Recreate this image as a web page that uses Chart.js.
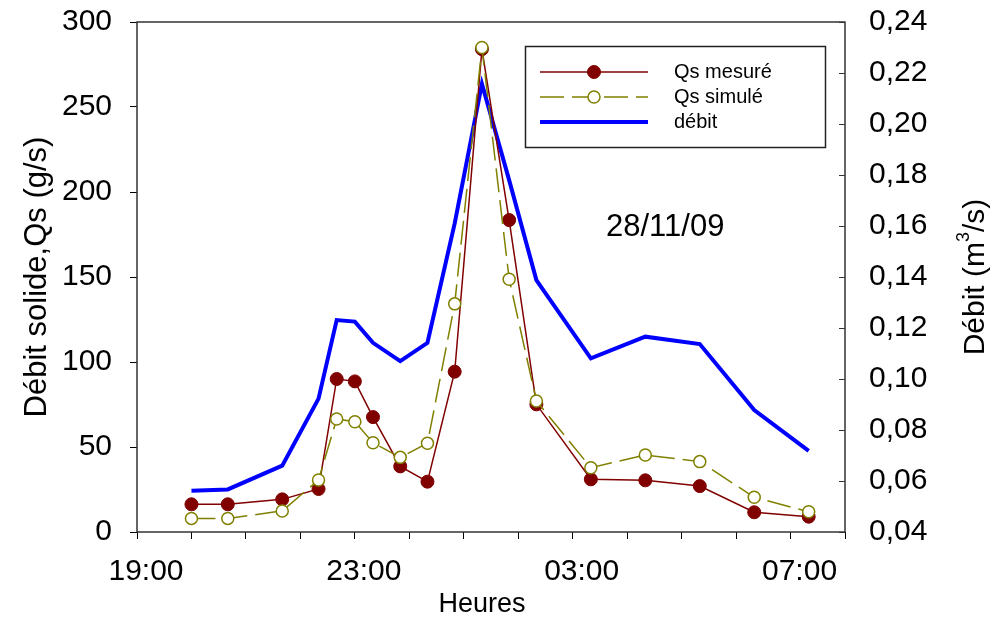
<!DOCTYPE html>
<html>
<head>
<meta charset="utf-8">
<script src="https://cdn.jsdelivr.net/npm/chart.js@4/dist/chart.umd.min.js"></script>
<style>
  html, body { margin: 0; padding: 0; background: #fff; }
  #wrap { width: 991px; height: 624px; }
</style>
</head>
<body>
<div id="wrap"><canvas id="chart"></canvas></div>
<script>
// Data (28/11/09 event)
const heures = ["20:00", "20:40", "21:40", "22:20", "22:40", "23:00", "23:20", "23:50", "00:20",
  "00:50", "01:20", "01:50", "02:20", "03:20", "04:20", "05:20", "06:20", "07:20"];
const qsMesure = [16.3, 16.3, 19.2, 25.3, 90, 88.6, 67.6, 38.6, 29.6, 94.3, 284, 183.5, 75.1, 31, 30.4, 27, 11.6, 9.0];
const qsSimule = [8.0, 8.0, 12.4, 30.6, 66.5, 64.9, 52.5, 43.9, 52.2, 134.2, 285, 148.7, 77.1, 37.8, 45.3, 41.4, 20.4, 11.9];
const debit = [0.0562, 0.0567, 0.066, 0.0923, 0.1231, 0.1225, 0.1142, 0.107, 0.1142, 0.161, 0.2157, 0.178,
  0.1388, 0.1081, 0.1166, 0.1137, 0.0878, 0.0718];
const xTickLabels = ["19:00", "23:00", "03:00", "07:00"];

const FONT = "'Liberation Sans', Arial, sans-serif";

// hours elapsed since 19:00 (night wraps past midnight)
function toHours(t) {
  const [h, m] = t.split(":").map(Number);
  return (h < 19 ? h + 24 : h) + m / 60 - 19;
}

function points(values) {
  return heures.map((t, i) => ({ x: toHours(t), y: values[i] }));
}

// fixed axis sizes, no extra label padding pushing the plot area
function fixVertical(width) {
  return (s) => {
    s.width = width;
    s.paddingTop = 0;
    s.paddingBottom = 0;
  };
}

const extras = {
  id: "extras",
  beforeDatasetsDraw(chart) {
    const { ctx, chartArea: a } = chart;
    ctx.save();
    ctx.strokeStyle = "#333";
    ctx.lineWidth = 1.5;
    ctx.strokeRect(a.left, a.top, a.right - a.left, a.bottom - a.top);
    // inward ticks on the right axis
    const y1 = chart.scales.y1;
    ctx.lineWidth = 1;
    y1.ticks.forEach((t) => {
      const py = Math.round(y1.getPixelForValue(t.value)) + 0.5;
      ctx.beginPath();
      ctx.moveTo(a.right - 6, py);
      ctx.lineTo(a.right, py);
      ctx.stroke();
    });
    ctx.restore();
  },
  afterDraw(chart) {
    const { ctx, chartArea: a } = chart;
    const ds = chart.data.datasets;
    const midY = (a.top + a.bottom) / 2;
    ctx.save();
    ctx.fillStyle = "#000";

    // axis titles
    ctx.font = "31px " + FONT;
    ctx.textAlign = "center";
    ctx.textBaseline = "middle";
    ctx.save();
    ctx.translate(37, midY);
    ctx.rotate(-Math.PI / 2);
    ctx.fillText("Débit solide,Qs (g/s)", 0, 0);
    ctx.restore();

    ctx.font = "27px " + FONT;
    ctx.fillText("Heures", 482, 605);

    // right title with superscript
    ctx.save();
    ctx.translate(976, midY);
    ctx.rotate(-Math.PI / 2);
    const p1 = "Débit (m", p2 = "3", p3 = "/s)";
    ctx.font = "30px " + FONT;
    const w1 = ctx.measureText(p1).width, w3 = ctx.measureText(p3).width;
    ctx.font = "18px " + FONT;
    const w2 = ctx.measureText(p2).width;
    const x = -(w1 + w2 + w3) / 2;
    ctx.textAlign = "left";
    ctx.font = "30px " + FONT;
    ctx.fillText(p1, x, 0);
    ctx.font = "18px " + FONT;
    ctx.fillText(p2, x + w1, -12);
    ctx.font = "30px " + FONT;
    ctx.fillText(p3, x + w1 + w2, 0);
    ctx.restore();

    // date annotation
    ctx.font = "31px " + FONT;
    ctx.textAlign = "left";
    ctx.fillText("28/11/09", 606, 227);

    // legend box
    ctx.strokeStyle = "#222";
    ctx.lineWidth = 1.5;
    ctx.strokeRect(525.5, 46.5, 300, 101);
    const rows = [72, 97, 122];
    ds.forEach((d, i) => {
      const y = rows[i];
      ctx.save();
      ctx.strokeStyle = d.borderColor;
      ctx.lineWidth = d.borderWidth;
      ctx.setLineDash(d.borderDash || []);
      ctx.beginPath();
      ctx.moveTo(540, y);
      ctx.lineTo(648, y);
      ctx.stroke();
      ctx.setLineDash([]);
      if (d.pointRadius > 0) {
        ctx.beginPath();
        ctx.arc(594, y, d.pointRadius, 0, Math.PI * 2);
        ctx.fillStyle = d.pointBackgroundColor;
        ctx.fill();
        ctx.lineWidth = d.pointBorderWidth;
        ctx.strokeStyle = d.pointBorderColor;
        ctx.stroke();
      }
      ctx.restore();
      ctx.font = "20px " + FONT;
      ctx.fillStyle = "#000";
      ctx.textAlign = "left";
      ctx.textBaseline = "middle";
      ctx.fillText(d.label, 674, y);
    });
    ctx.restore();
  },
};

new Chart(document.getElementById("chart"), {
  type: "line",
  data: {
    datasets: [
      {
        label: "Qs mesuré",
        data: points(qsMesure),
        yAxisID: "y",
        borderColor: "#800000",
        borderWidth: 1.5,
        pointRadius: 6.5,
        pointBackgroundColor: "#800000",
        pointBorderColor: "#800000",
        pointBorderWidth: 1,
        order: 2,
      },
      {
        label: "Qs simulé",
        data: points(qsSimule),
        yAxisID: "y",
        borderColor: "#808000",
        borderWidth: 1.5,
        borderDash: [24, 8],
        pointRadius: 6,
        pointBackgroundColor: "#ffffff",
        pointBorderColor: "#808000",
        pointBorderWidth: 1.5,
        order: 1,
      },
      {
        label: "débit",
        data: points(debit),
        yAxisID: "y1",
        borderColor: "#0000ff",
        borderWidth: 4,
        pointRadius: 0,
        order: 3,
      },
    ],
  },
  options: {
    responsive: true,
    maintainAspectRatio: false,
    animation: false,
    devicePixelRatio: 1,
    layout: { padding: { top: 22, left: 0, right: 0, bottom: 0 } },
    plugins: {
      legend: { display: false },
      tooltip: { enabled: false },
    },
    scales: {
      x: {
        type: "linear",
        min: 0,
        max: 13,
        ticks: {
          stepSize: 1,
          autoSkip: false,
          maxRotation: 0,
          padding: 15,
          labelOffset: 9,
          color: "#000",
          font: { family: FONT, size: 30 },
          callback: (v) => {
            const lbl = xTickLabels.find((l) => toHours(l) === v);
            return lbl || "";
          },
        },
        grid: { drawOnChartArea: false, drawTicks: true, tickLength: 7, color: "#000" },
        border: { display: false },
        afterFit: (s) => {
          s.height = 92;
          s.paddingLeft = 0;
          s.paddingRight = 0;
        },
      },
      y: {
        position: "left",
        min: 0,
        max: 300,
        ticks: {
          stepSize: 50,
          padding: 18,
          color: "#000",
          font: { family: FONT, size: 30 },
        },
        grid: { drawOnChartArea: false, drawTicks: true, tickLength: 7, color: "#000" },
        border: { display: false },
        afterFit: fixVertical(137),
      },
      y1: {
        position: "right",
        min: 0.04,
        max: 0.24,
        ticks: {
          stepSize: 0.02,
          padding: 24,
          color: "#000",
          font: { family: FONT, size: 30 },
          callback: (v) => v.toFixed(2).replace(".", ","),
        },
        grid: { display: false, drawTicks: false },
        border: { display: false },
        afterFit: fixVertical(146),
      },
    },
  },
  plugins: [extras],
});
</script>
</body>
</html>
